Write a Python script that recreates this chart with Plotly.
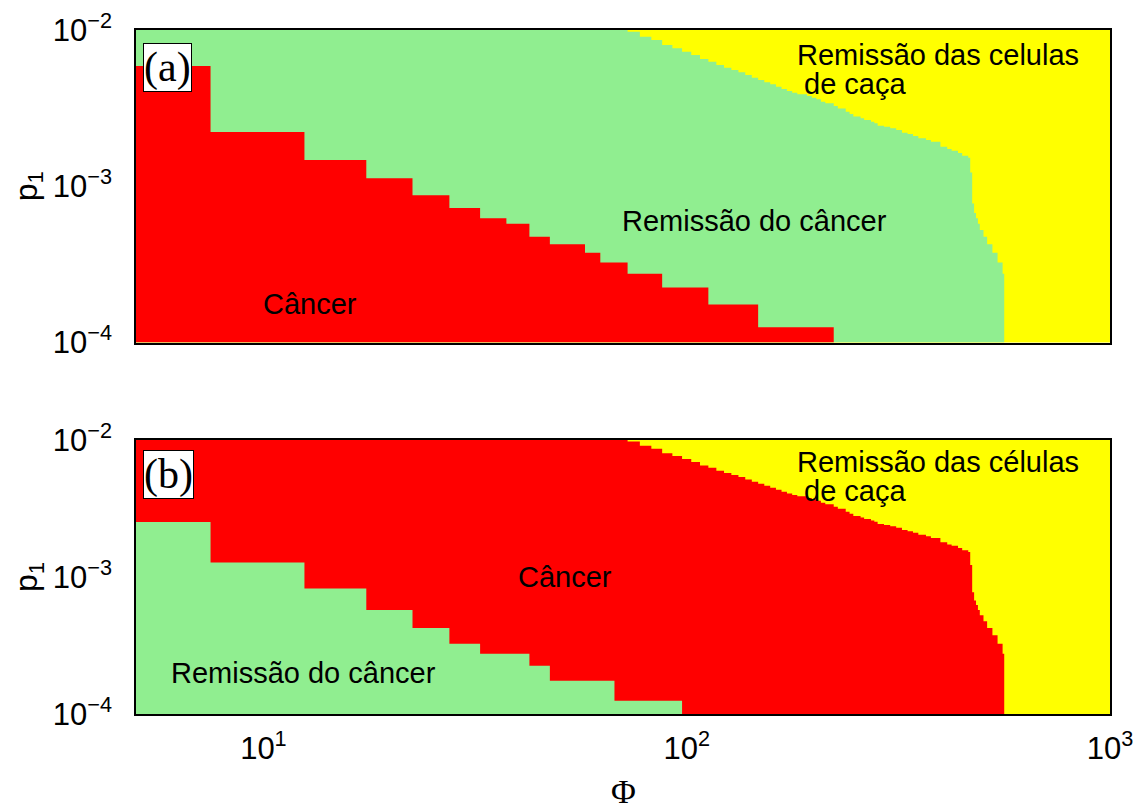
import math
import plotly.graph_objects as go

# ---------------- data ----------------
PHI_RANGE = [5, 1000]          # Φ axis range
P1_RANGE = [1e-4, 1e-2]        # p1 axis range

# Upper edge of the "cancer remission" (panel a) / "cancer" (panel b) zone:
# above it lies the zone where the hunting cells die out (yellow).
# Each level holds from the given Φ up to the next Φ.
boundary_phi = [5, 72.5, 77.5, 82.5, 87.5, 92.5, 97.5, 102.5, 107.5, 112.5,
                117.5, 122.5, 127.5, 132.5, 137.5, 142.5, 147.5, 152.5, 157.5,
                162.5, 167.5, 172.5, 177.5, 182.5, 192.5, 197.5, 202.5, 207.5,
                212.5, 222.5, 227.5, 237.5, 242.5, 247.5, 257.5, 262.5, 272.5,
                277.5, 282.5, 292.5, 302.5, 312.5, 322.5, 332.5, 342.5, 352.5,
                367.5, 377.5, 397.5, 412.5, 422.5, 437.5, 447.5, 462.5, 467.5,
                472.5, 477.5, 482.5, 487.5, 492.5, 502.5, 512.5, 527.5, 542.5,
                557.5]
boundary_p1 = [1.0e-2, 9.75e-3, 9.06e-3, 8.63e-3, 8.02e-3, 7.63e-3, 7.26e-3,
               6.92e-3, 6.52e-3, 6.27e-3, 5.97e-3, 5.74e-3, 5.55e-3, 5.36e-3,
               5.15e-3, 4.95e-3, 4.79e-3, 4.63e-3, 4.49e-3, 4.34e-3, 4.19e-3,
               4.07e-3, 3.97e-3, 3.88e-3, 3.78e-3, 3.69e-3, 3.60e-3, 3.48e-3,
               3.40e-3, 3.26e-3, 3.15e-3, 3.00e-3, 2.90e-3, 2.79e-3, 2.72e-3,
               2.65e-3, 2.59e-3, 2.53e-3, 2.44e-3, 2.40e-3, 2.35e-3, 2.29e-3,
               2.20e-3, 2.16e-3, 2.10e-3, 2.03e-3, 1.98e-3, 1.93e-3, 1.79e-3,
               1.73e-3, 1.69e-3, 1.63e-3, 1.57e-3, 1.52e-3, 1.225e-3, 7.75e-4,
               6.75e-4, 6.25e-4, 5.75e-4, 5.25e-4, 4.75e-4, 4.25e-4, 3.75e-4,
               3.25e-4, 2.75e-4]
boundary_end = 562.5

# Panel (a): upper edge of the "Câncer" (red) zone
cancer_a_phi = [5, 7.5, 12.5, 17.5, 22.5, 27.5, 32.5, 37.5, 42.5, 47.5, 57.5,
                62.5, 72.5, 87.5, 112.5, 147.5]
cancer_a_p1 = [5.875e-3, 2.225e-3, 1.475e-3, 1.125e-3, 8.75e-4, 7.25e-4,
               6.25e-4, 5.75e-4, 4.75e-4, 4.25e-4, 3.75e-4, 3.25e-4, 2.75e-4,
               2.25e-4, 1.75e-4, 1.25e-4]
cancer_a_end = 222.5

# Panel (b): upper edge of the "Remissão do câncer" (green) zone
remission_b_phi = [5, 7.5, 12.5, 17.5, 22.5, 27.5, 32.5, 42.5, 47.5, 67.5]
remission_b_p1 = [2.525e-3, 1.275e-3, 8.25e-4, 5.75e-4, 4.25e-4, 3.25e-4,
                  2.75e-4, 2.25e-4, 1.75e-4, 1.25e-4]
remission_b_end = 97.5

x_tick_vals = [10, 100, 1000]
x_tick_text = ["10<sup>1</sup>", "10<sup>2</sup>", "10<sup>3</sup>"]
y_tick_vals = [1e-4, 1e-3, 1e-2]
y_tick_text = ["10<sup>\u22124</sup>", "10<sup>\u22123</sup>", "10<sup>\u22122</sup>"]

RED = "#ff0000"
GREEN = "#90ee90"
YELLOW = "#ffff00"


def staircase(starts, levels, end, base):
    xs, ys = [starts[0]], [base]
    for i, (s, lev) in enumerate(zip(starts, levels)):
        e = starts[i + 1] if i + 1 < len(starts) else end
        xs += [s, e]
        ys += [lev, lev]
    xs.append(end)
    ys.append(base)
    return xs, ys


def region(starts, levels, end, color, xa, ya):
    xs, ys = staircase(starts, levels, end, P1_RANGE[0])
    return go.Scatter(x=xs, y=ys, mode="lines", fill="toself",
                      fillcolor=color, line=dict(width=0, color=color),
                      hoverinfo="skip", showlegend=False, xaxis=xa, yaxis=ya)


fig = go.Figure()
# panel (a)
fig.add_trace(region(boundary_phi, boundary_p1, boundary_end, GREEN, "x", "y"))
fig.add_trace(region(cancer_a_phi, cancer_a_p1, cancer_a_end, RED, "x", "y"))
# panel (b)
fig.add_trace(region(boundary_phi, boundary_p1, boundary_end, RED, "x2", "y2"))
fig.add_trace(region(remission_b_phi, remission_b_p1, remission_b_end, GREEN, "x2", "y2"))

W, H = 1142, 812
L, R = 136, 1110
A_TOP, A_BOT = 30, 342.5
B_TOP, B_BOT = 440, 714

SANS = "Liberation Sans, Arial, Helvetica, sans-serif"
SERIF = "Liberation Serif, Times New Roman, serif"

common_x = dict(type="log", range=[math.log10(PHI_RANGE[0]), math.log10(PHI_RANGE[1])],
                domain=[L / W, R / W], showgrid=False, zeroline=False,
                showline=True, mirror=True, linecolor="black", linewidth=1.5,
                ticks="", tickvals=x_tick_vals, ticktext=x_tick_text,
                automargin=False,
                tickfont=dict(family=SANS, size=31, color="black"))
common_y = dict(type="log", range=[math.log10(P1_RANGE[0]), math.log10(P1_RANGE[1])],
                showgrid=False, zeroline=False,
                showline=True, mirror=True, linecolor="black", linewidth=1.5,
                ticks="", tickvals=y_tick_vals, ticktext=y_tick_text,
                ticklabelstandoff=16, automargin=False,
                tickfont=dict(family=SANS, size=31, color="black"))

fig.update_layout(
    width=W, height=H, autosize=False,
    margin=dict(l=0, r=0, t=0, b=0, pad=0, autoexpand=False),
    paper_bgcolor="white", plot_bgcolor=YELLOW,
    xaxis=dict(common_x, anchor="y", showticklabels=False),
    yaxis=dict(common_y, anchor="x", domain=[1 - A_BOT / H, 1 - A_TOP / H]),
    xaxis2=dict(common_x, anchor="y2", ticklabelstandoff=6),
    yaxis2=dict(common_y, anchor="x2", domain=[1 - B_BOT / H, 1 - B_TOP / H]),
)

TXT = dict(family=SANS, size=29, color="black")
ann = []


def label(text, x, y, xref, yref, **kw):
    d = dict(text=text, x=x, y=y, xref=xref, yref=yref, showarrow=False,
             xanchor="center", yanchor="middle",
             font=kw.pop("font", TXT))
    d.update(kw)
    ann.append(d)


BOX_FONT = dict(family=SERIF, size=42, color="black")
# panel (a)
label("Câncer", 0.1786, 0.124, "x domain", "y domain")
label("Remissão do câncer", 0.6345, 0.389, "x domain", "y domain")
label("Remissão das celulas", 0.6766, 0.921, "x domain", "y domain", xanchor="left")
label("de caça", 0.6838, 0.827, "x domain", "y domain", xanchor="left")
label("(a)", 0.0072, 0.958, "x domain", "y domain", xanchor="left", yanchor="top",
      font=BOX_FONT, bgcolor="white", bordercolor="black", borderwidth=1, borderpad=0)
# panel (b)
label("Câncer", 0.4405, 0.50, "x2 domain", "y2 domain")
label("Remissão do câncer", 0.1715, 0.150, "x2 domain", "y2 domain")
label("Remissão das células", 0.6766, 0.920, "x2 domain", "y2 domain", xanchor="left")
label("de caça", 0.6838, 0.814, "x2 domain", "y2 domain", xanchor="left")
label("(b)", 0.0072, 0.9635, "x2 domain", "y2 domain", xanchor="left", yanchor="top",
      font=BOX_FONT, bgcolor="white", bordercolor="black", borderwidth=1, borderpad=0)
# axis titles
label("p<sub>1</sub>", 28 / W, 0.5, "paper", "y domain", textangle=-90,
      font=dict(family=SANS, size=32, color="black"))
label("p<sub>1</sub>", 28 / W, 0.5, "paper", "y2 domain", textangle=-90,
      font=dict(family=SANS, size=32, color="black"))
label("\u03a6", 623 / W, 1 - 791 / H, "paper", "paper",
      font=dict(family=SERIF, size=34, color="black"))

fig.update_layout(annotations=ann)
fig.write_html("out.html")
